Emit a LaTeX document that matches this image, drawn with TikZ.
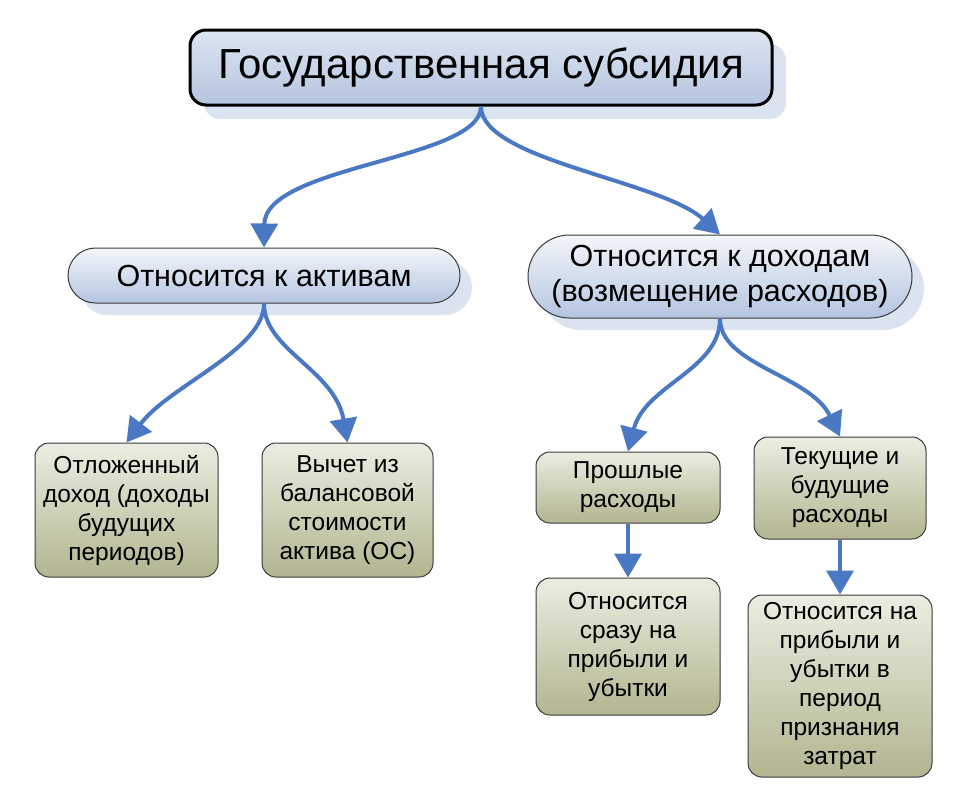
\documentclass[tikz,border=0pt]{standalone}
\usepackage{fontspec}
\setmainfont{Liberation Sans}
\usetikzlibrary{arrows.meta,shapes.misc,shadows}
\definecolor{arrowblue}{HTML}{4A78C2}
\definecolor{boxblue}{HTML}{B4C5E0}
\definecolor{shadowblue}{HTML}{DCE3F0}
\definecolor{boxgreen}{HTML}{B2B58F}
\definecolor{boxgreentop}{HTML}{ECEDE2}
\definecolor{edgegray}{HTML}{3A3A3A}
\begin{document}
\begin{tikzpicture}[x=1pt, y=-1pt,
    topbox/.style={draw=black, line width=3pt, rounded corners=16pt,
        top color=white!55!boxblue, bottom color=boxblue,
        drop shadow={fill=shadowblue, shadow xshift=14pt, shadow yshift=-14pt, opacity=1},
        minimum width=582pt, minimum height=75pt, inner sep=0pt,
        font=\fontsize{42}{48}\selectfont},
    midbox/.style={rounded rectangle, draw=edgegray, line width=1pt,
        top color=white!85!boxblue, bottom color=boxblue,
        drop shadow={fill=shadowblue, shadow xshift=12pt, shadow yshift=-12pt, opacity=1},
        inner sep=0pt, align=center,
        font=\fontsize{30.5}{35}\selectfont},
    leafbox/.style={draw=edgegray, line width=1pt, rounded corners=14pt,
        top color=boxgreentop, bottom color=boxgreen,
        inner sep=0pt, align=center,
        font=\fontsize{24.5}{29}\selectfont},
    arr/.style={-{Triangle[width=27pt,length=24pt]}, draw=arrowblue, line width=4pt}]
    \useasboundingbox (0,0) rectangle (960,807);
    % Nodes
    \node[topbox] (subsidy) at (481,67.5) {Государственная субсидия};
    \node[midbox, minimum width=392pt, minimum height=55pt] (assets) at (264,275.5) {Относится к активам};
    \node[midbox, minimum width=384pt, minimum height=83pt] (income) at (720,276.5) {Относится к доходам\\(возмещение расходов)};
    \node[leafbox, minimum width=183pt, minimum height=134pt] (deferred) at (126.5,510) {Отложенный\\доход (доходы\\будущих\\периодов)};
    \node[leafbox, minimum width=171pt, minimum height=134pt] (deduct) at (347.5,510) {Вычет из\\балансовой\\стоимости\\актива (ОС)};
    \node[leafbox, minimum width=184pt, minimum height=71pt] (past) at (628,487.5) {Прошлые\\расходы};
    \node[leafbox, minimum width=172pt, minimum height=102pt] (current) at (840,488) {Текущие и\\будущие\\расходы};
    \node[leafbox, minimum width=184pt, minimum height=137pt] (immediate) at (628,646.5) {Относится\\сразу на\\прибыли и\\убытки};
    \node[leafbox, minimum width=184pt, minimum height=182pt] (period) at (840,686) {Относится на\\прибыли и\\убытки в\\период\\признания\\затрат};
    % Edges
    \draw[arr] (subsidy.south) .. controls (481,160) and (265,165) .. (assets.north);
    \draw[arr] (subsidy.south) .. controls (481,160) and (660,180) .. (income.north);
    \draw[arr] (assets.south) .. controls (264,350) and (170,385) .. (deferred.north);
    \draw[arr] (assets.south) .. controls (264,350) and (335,370) .. (deduct.north);
    \draw[arr] (income.south) .. controls (720,370) and (645,385) .. (past.north);
    \draw[arr] (income.south) .. controls (720,365) and (810,375) .. (current.north);
    \draw[arr] (past.south) -- (immediate.north);
    \draw[arr] (current.south) -- (period.north);
\end{tikzpicture}
\end{document}
